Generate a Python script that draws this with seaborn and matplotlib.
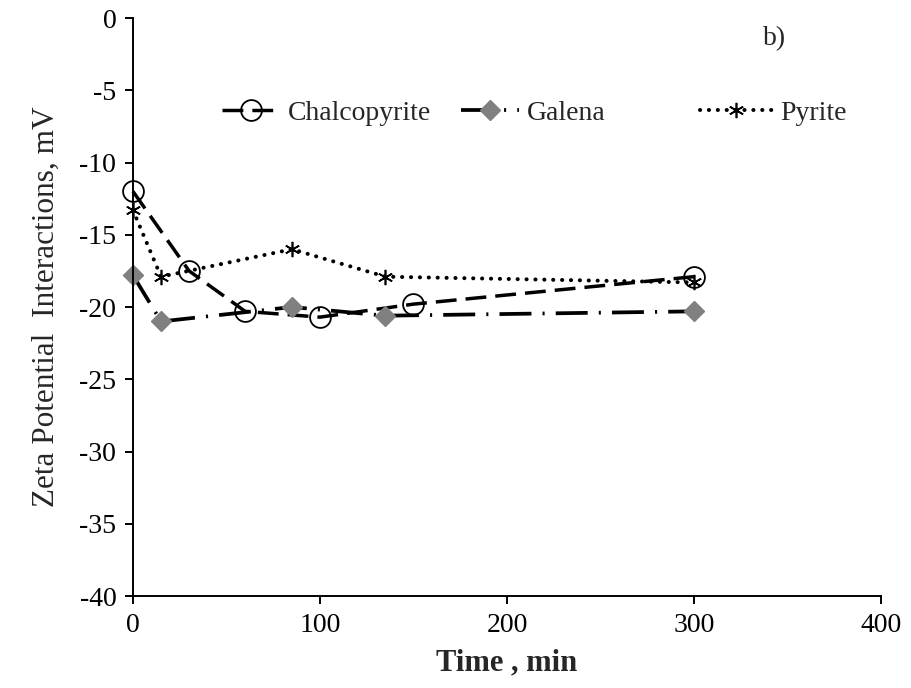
import matplotlib
matplotlib.use("Agg")
import matplotlib.pyplot as plt
from matplotlib.legend import Legend
import seaborn as sns
import pandas as pd

# Zeta potential over time for three sulphide minerals
chalco_time = [0, 30, 60, 100, 150, 300]
chalco_zeta = [-12.0, -17.5, -20.3, -20.7, -19.8, -17.9]

galena_time = [0, 15, 85, 135, 300]
galena_zeta = [-17.8, -21.0, -20.0, -20.6, -20.3]

pyrite_time = [0, 15, 85, 135, 300]
pyrite_zeta = [-13.3, -17.9, -16.0, -17.9, -18.3]

x_ticks = [0, 100, 200, 300, 400]
y_ticks = [0, -5, -10, -15, -20, -25, -30, -35, -40]

sns.set_style("white")
plt.rcParams["font.family"] = ["Liberation Serif", "DejaVu Serif"]
plt.rcParams["lines.scale_dashes"] = False

fig = plt.figure(figsize=(9.12, 6.88), dpi=100)
ax = fig.add_axes([0.1458, 0.1337, 0.8202, 0.8401])

series = [
    dict(name="Chalcopyrite", t=chalco_time, z=chalco_zeta, marker="o", ms=15,
         mfc="none", mec="black", mew=1.3, lw=2.5, dashes=(15, 6.5), cap="butt",
         leg_x=0.119, hl=2.1),
    dict(name="Galena", t=galena_time, z=galena_zeta, marker="D", ms=10.5,
         mfc="#808080", mec="#808080", mew=1.0, lw=2.7,
         dashes=(23, 8, 1.5, 8), cap="butt", leg_x=0.4385, hl=2.1),
    dict(name="Pyrite", t=pyrite_time, z=pyrite_zeta, marker=(6, 2, 0), ms=11,
         mfc="black", mec="black", mew=1.2, lw=2.9, dashes=(0.1, 6.3), cap="round",
         leg_x=0.758, hl=2.6),
]

handles = []
for s in series:
    df = pd.DataFrame({"Time": s["t"], "Zeta": s["z"]})
    sns.lineplot(data=df, x="Time", y="Zeta", ax=ax, sort=False, estimator=None,
                 color="black", marker=s["marker"], markersize=s["ms"],
                 markerfacecolor=s["mfc"], markeredgecolor=s["mec"],
                 markeredgewidth=s["mew"], linewidth=s["lw"], label=s["name"],
                 legend=False)
    line = ax.lines[-1]
    line.set_dashes(s["dashes"])
    line.set_dash_capstyle(s["cap"])
    line.set_clip_on(False)
    handles.append(line)

ax.set_xlim(0, 400)
ax.set_ylim(-40, 0)
ax.set_xticks(x_ticks)
ax.set_yticks(y_ticks)
ax.set_xticklabels([str(v) for v in x_ticks])
ax.set_yticklabels([str(v) for v in y_ticks])

for side in ("top", "right"):
    ax.spines[side].set_visible(False)
for side in ("left", "bottom"):
    ax.spines[side].set_color("black")
    ax.spines[side].set_linewidth(1.4)

ax.tick_params(axis="both", direction="out", length=6, width=1.4,
               labelsize=20, colors="black", pad=6,
               left=True, bottom=True)

ax.set_xlabel("Time , min", fontsize=22, fontweight="bold", labelpad=8)
ax.set_ylabel("Zeta Potential  Interactions, mV", fontsize=22.5, labelpad=13)

ax.text(343, -1.4, "b)", fontsize=20, ha="center", va="center")

# one legend entry per series, laid out along a row near the top
auto_legend = ax.get_legend()
if auto_legend is not None:
    auto_legend.remove()
for s, h in zip(series, handles):
    leg = Legend(ax, [h], [s["name"]], loc="center left",
                 bbox_to_anchor=(s["leg_x"], 0.836), frameon=False,
                 fontsize=20, handlelength=s["hl"], handletextpad=0.28,
                 borderpad=0, borderaxespad=0, numpoints=1)
    ax.add_artist(leg)

fig.savefig("out.png", dpi=100)
